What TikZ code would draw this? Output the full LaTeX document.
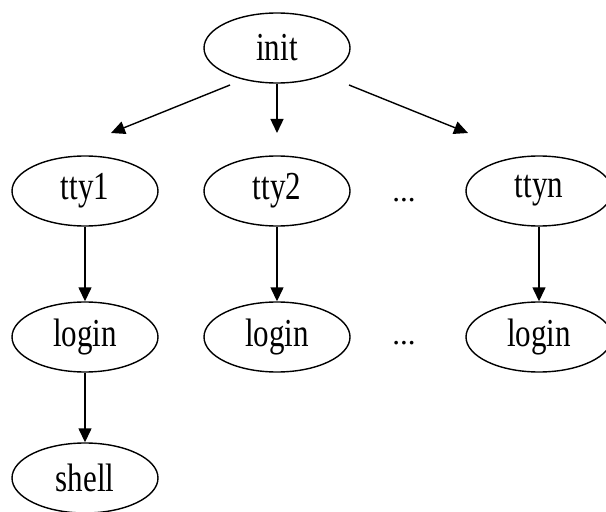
\documentclass[tikz,border=0pt]{standalone}
\usepackage{fontspec}
\setmainfont{Liberation Serif}
\usetikzlibrary{shapes.geometric,arrows.meta}
% labels are set a little taller than the font's natural shape
\newcommand\tallword[1]{\scalebox{1}[1.28]{#1}}
\begin{document}
\begin{tikzpicture}[x=1bp,y=-1bp,
  proc/.style={ellipse,draw,line width=1.4bp,minimum width=146bp,minimum height=70bp,
    inner sep=0pt,font=\fontsize{31bp}{34bp}\selectfont},
  dots/.style={font=\fontsize{31bp}{34bp}\selectfont,inner sep=0pt},
  link/.style={line width=1.4bp,-{Triangle[length=14bp,width=13bp]}}]
\useasboundingbox (0,0) rectangle (606,512);
% processes
\node[proc] (init) at (277,48) {\tallword{init}};
\node[proc] (tty1) at (85,191) {\tallword{tty1}};
\node[proc] (tty2) at (277,191) {\tallword{tty2}};
\node[proc] (ttyn) at (539,191) {\tallword{ttyn}};
\node[proc] (login1) at (85,337) {\tallword{login}};
\node[proc] (login2) at (277,337) {\tallword{login}};
\node[proc] (loginn) at (539,337) {\tallword{login}};
\node[proc] (shell) at (85,478) {\tallword{shell}};
\node[dots] (d1) at (404,200) {...};
\node[dots] (d2) at (404,343) {...};
% fan-out from init
\coordinate (s1) at ([shift={(-47bp,-37bp)}]init.center);
\coordinate (sn) at ([shift={(72bp,-37bp)}]init.center);
\coordinate (e1) at (111,133);
\coordinate (e2) at (277,133);
\coordinate (en) at (468,133);
\draw[link] (s1) -- (e1);
\draw[link] (init.south) -- (e2);
\draw[link] (sn) -- (en);
% terminals to logins
\draw[link] (tty1) -- (login1);
\draw[link] (tty2) -- (login2);
\draw[link] (ttyn) -- (loginn);
\draw[link] (login1) -- (shell);
\end{tikzpicture}
\end{document}
